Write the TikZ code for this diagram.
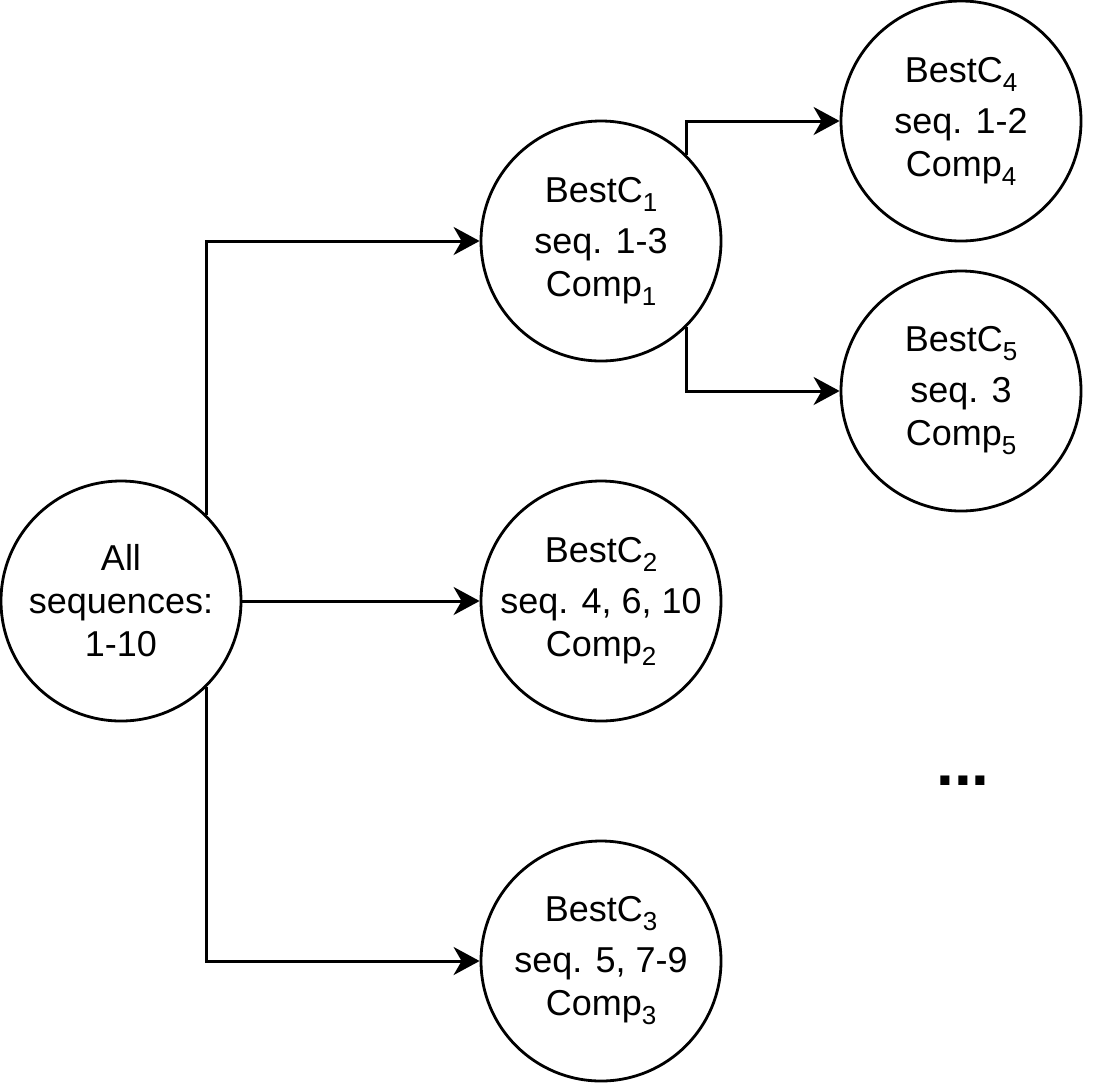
\documentclass[tikz,border=0pt]{standalone}
\usepackage{fontspec}
\setmainfont{Liberation Sans}
\usepackage{tikz}
\usetikzlibrary{arrows.meta,positioning,calc}

\tikzset{
    cluster/.style={draw, circle, line width=1.4pt, minimum size=120pt, inner sep=0pt, align=center,
        font=\fontsize{18}{21.5}\selectfont},
    link/.style={line width=1.5pt, -{Stealth[length=13pt, width=14pt, inset=4pt]}}
}
\newcommand{\idx}[1]{\raisebox{-4.5pt}{\fontsize{13}{14}\selectfont #1}}
\newcommand{\bestc}[3]{BestC\idx{#1}\\[4pt] seq. #2\\ Comp\idx{#3}}

\begin{document}
\begin{tikzpicture}[x=0.5pt, y=-0.5pt]
    \useasboundingbox (0,0) rectangle (1113,1083);
    % Root
    \node[cluster] (all) at (121,601) {All\\ sequences:\\ 1-10};
    % First split
    \node[cluster] (c1) at (601,241) {\bestc{1}{1-3}{1}};
    \node[cluster] (c2) at (601,601) {\bestc{2}{4, 6, 10}{2}};
    \node[cluster] (c3) at (601,961) {\bestc{3}{5, 7-9}{3}};
    % Second split
    \node[cluster] (c4) at (961,121) {\bestc{4}{1-2}{4}};
    \node[cluster] (c5) at (961,391) {\bestc{5}{3}{5}};
    \node[font=\fontsize{32}{38}\selectfont\bfseries] (dots) at (963,781) {...};
    % Connectors
    \draw[link] (all.north east) |- (c1);
    \draw[link] (all) -- (c2);
    \draw[link] (all.south east) |- (c3);
    \draw[link] (c1.north east) |- (c4);
    \draw[link] (c1.south east) |- (c5);
\end{tikzpicture}
\end{document}
